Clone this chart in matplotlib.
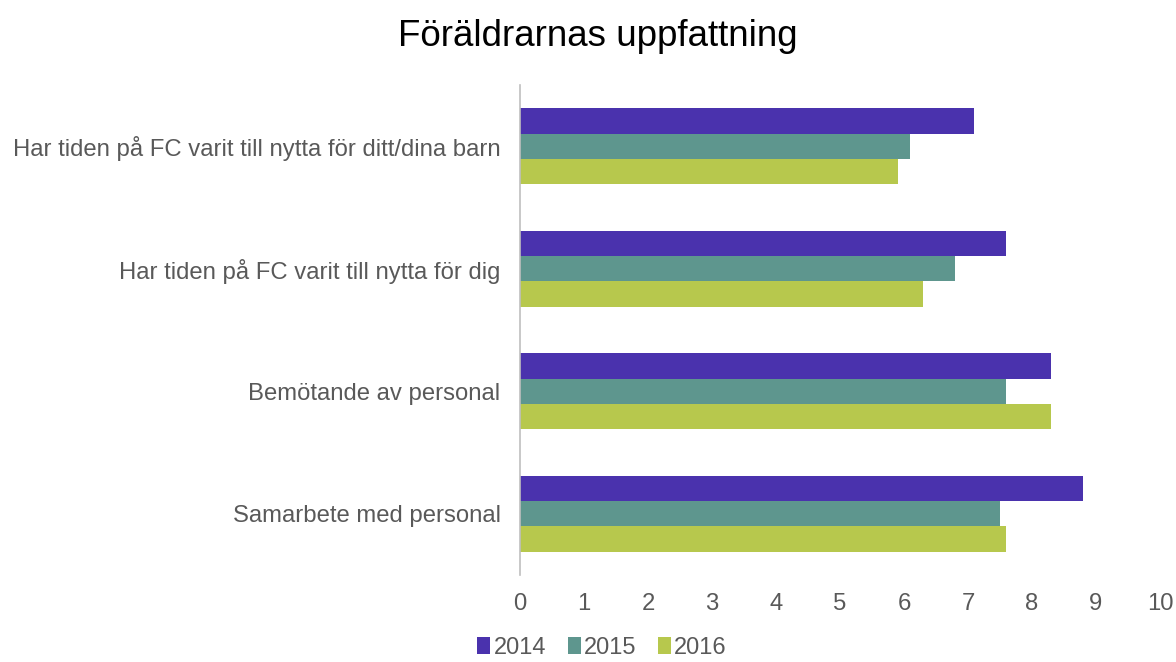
import matplotlib.pyplot as plt
import numpy as np

plt.rcParams['font.family'] = ['Liberation Sans', 'DejaVu Sans']

categories = ['Har tiden på FC varit till nytta för ditt/dina barn',
              'Har tiden på FC varit till nytta för dig',
              'Bemötande av personal',
              'Samarbete med personal']
years = ['2014', '2015', '2016']
v2014 = [7.1, 7.6, 8.3, 8.8]
v2015 = [6.1, 6.8, 7.6, 7.5]
v2016 = [5.9, 6.3, 8.3, 7.6]
colors = ['#4A32AD', '#5E968E', '#B7C84D']

fig = plt.figure(figsize=(11.76, 6.62), dpi=100)
ax = fig.add_axes([520 / 1176, 1 - 575 / 662, 640 / 1176, 490 / 662])

y = np.arange(len(categories))
h = 0.206
for i, (vals, c, lab) in enumerate(zip([v2014, v2015, v2016], colors, years)):
    ax.barh(y + (i - 1) * h, vals, height=h, color=c, label=lab)

ax.set_xlim(0, 10)
ax.set_ylim(len(categories) - 0.5, -0.5)
ax.set_xticks(range(0, 11))
ax.set_yticks(y)
ax.set_yticklabels(categories)
ax.tick_params(axis='both', length=0, labelsize=17.2, colors='#595959')
ax.tick_params(axis='x', pad=13)
ax.tick_params(axis='y', pad=14)
for s in ['top', 'right', 'bottom']:
    ax.spines[s].set_visible(False)
ax.spines['left'].set_color('#BFBFBF')
ax.spines['left'].set_linewidth(1.2)

fig.suptitle('Föräldrarnas uppfattning', fontsize=26.5, y=0.972, x=0.508, color='#000000')
fig.legend(loc='lower center', bbox_to_anchor=(0.512, -0.027), ncol=3, frameon=False,
           fontsize=17, handlelength=0.55, handleheight=0.7, handletextpad=0.15,
           columnspacing=0.9, labelcolor='#595959')

fig.savefig('out.png', dpi=100)
